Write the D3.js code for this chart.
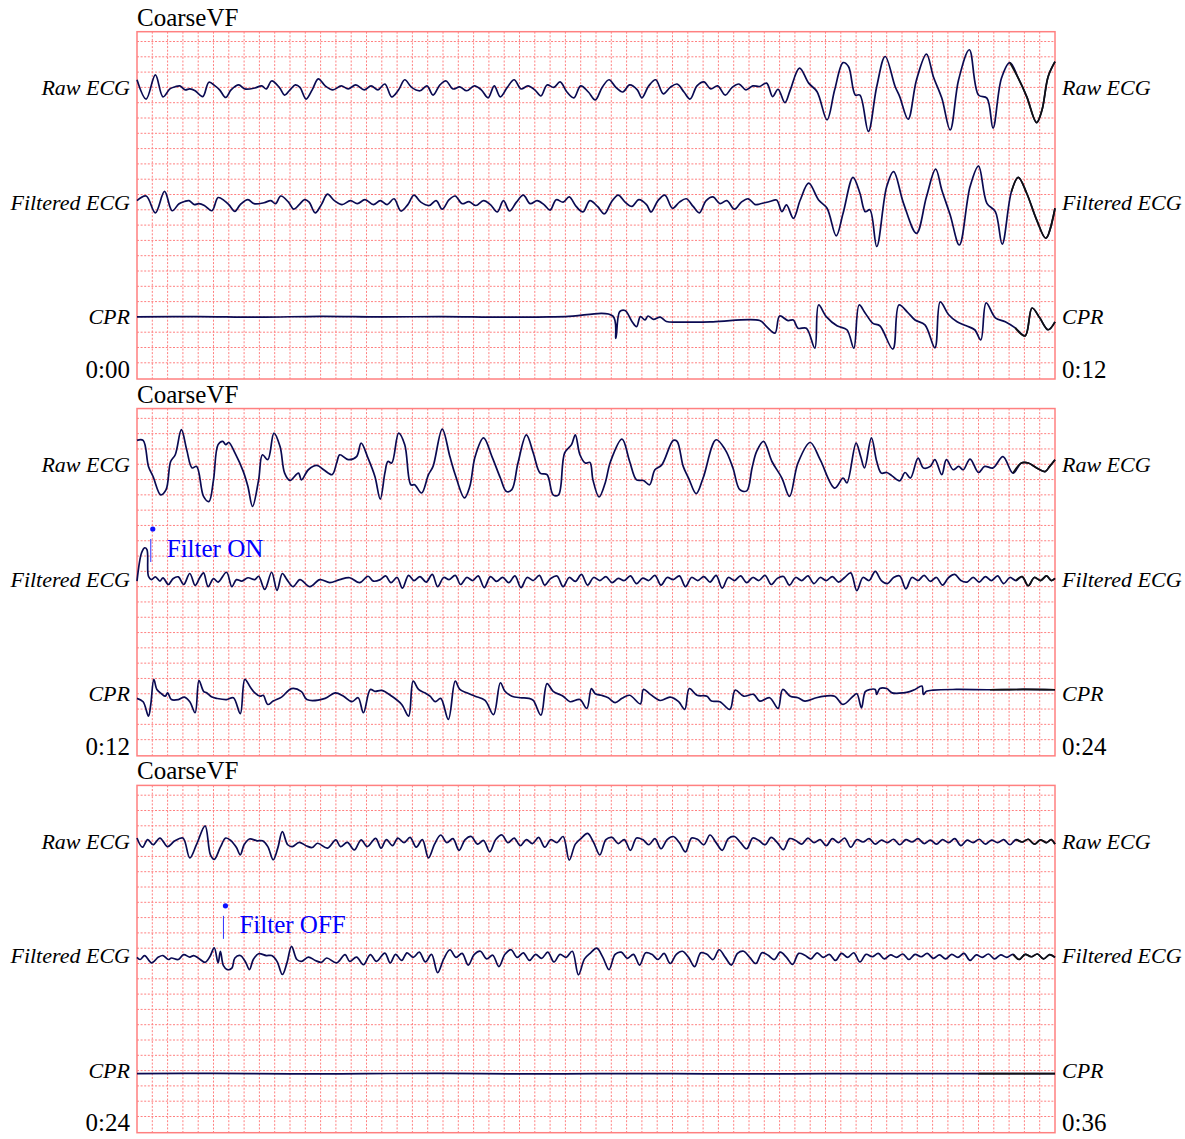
<!DOCTYPE html>
<html>
<head>
<meta charset="utf-8">
<script src="https://cdn.jsdelivr.net/npm/d3@7"></script>
<style>
  body { margin: 0; background: #fff; }
</style>
</head>
<body>
<div id="chart"></div>
<script>
// labels
const panelTitles = ["CoarseVF", "CoarseVF", "CoarseVF"];
const startLabels = ["0:00", "0:12", "0:24"];
const endLabels = ["0:12", "0:24", "0:36"];
const leadNames = ["Raw ECG", "Filtered ECG", "CPR"];
const leadOffsets = [0, -3.75, -7.5]; // mV, where each lead sits in its strip

// [seconds into strip, mV]
const raw1 = [[0,0.25],[0.12,-0.38],[0.24,0.41],[0.34,-0.31],[0.43,-0.05],[0.50,0.02],[0.56,0.05],[0.63,-0.08],[0.69,-0.05],[0.76,-0.11],[0.86,-0.30],[0.94,0.17],[1.02,0.05],[1.08,-0.08],[1.16,-0.33],[1.23,-0.08],[1.33,0.08],[1.41,-0.05],[1.54,-0.02],[1.63,0.05],[1.69,-0.05],[1.76,0.21],[1.86,0],[1.93,-0.25],[2.00,-0.08],[2.07,0.08],[2.13,0],[2.21,-0.38],[2.29,-0.08],[2.37,0.28],[2.46,0.05],[2.56,-0.08],[2.67,0.05],[2.76,-0.05],[2.86,0.08],[2.97,-0.08],[3.06,0.05],[3.15,-0.08],[3.24,0.11],[3.33,-0.31],[3.42,-0.08],[3.50,0.25],[3.59,0],[3.70,-0.11],[3.79,0.05],[3.87,-0.25],[3.96,0.08],[4.04,0.21],[4.13,-0.05],[4.22,0.02],[4.31,-0.11],[4.41,0.05],[4.50,-0.08],[4.59,-0.34],[4.67,0.05],[4.75,-0.31],[4.84,0],[4.93,0.25],[5.02,-0.05],[5.11,0.05],[5.20,-0.08],[5.28,-0.28],[5.36,0.08],[5.45,0],[5.53,0.18],[5.62,-0.15],[5.71,-0.34],[5.80,0.05],[5.90,-0.15],[5.99,-0.41],[6.08,0],[6.17,0.25],[6.26,0],[6.35,-0.15],[6.44,0.08],[6.54,-0.08],[6.60,-0.34],[6.69,0.05],[6.78,0.25],[6.88,-0.21],[6.97,0],[7.06,0.11],[7.15,-0.15],[7.23,-0.38],[7.32,0.05],[7.41,0.18],[7.50,-0.05],[7.59,0.05],[7.69,-0.25],[7.78,0],[7.87,0.11],[7.96,-0.08],[8.05,0.05],[8.14,0.03],[8.23,0.14],[8.31,-0.30],[8.38,-0.06],[8.47,-0.50],[8.54,-0.08],[8.66,0.63],[8.78,0.14],[8.89,-0.14],[9.02,-1.06],[9.12,-0.08],[9.23,0.81],[9.30,0.68],[9.39,-0.25],[9.45,-0.25],[9.56,-1.44],[9.67,0.03],[9.78,1.01],[9.91,0.03],[9.97,-0.30],[10.08,-1.04],[10.19,0.25],[10.32,1.09],[10.41,0.35],[10.52,-0.35],[10.63,-1.39],[10.74,0.25],[10.88,1.23],[11.00,-0.25],[11.11,-0.35],[11.19,-1.33],[11.30,0.30],[11.41,0.81],[11.52,0.30],[11.63,-0.30],[11.76,-1.15],[11.83,-0.74],[11.91,0.35],[12.0,0.84]];
const filt1 = [[0,0.05],[0.12,0.2],[0.24,-0.35],[0.36,0.35],[0.46,-0.28],[0.55,-0.05],[0.62,0.02],[0.68,0.05],[0.75,-0.08],[0.81,-0.05],[0.88,-0.11],[0.98,-0.28],[1.06,0.15],[1.14,0.05],[1.20,-0.08],[1.28,-0.3],[1.35,-0.08],[1.45,0.08],[1.53,-0.05],[1.66,-0.02],[1.75,0.05],[1.81,-0.05],[1.88,0.2],[1.98,0],[2.05,-0.23],[2.12,-0.08],[2.19,0.08],[2.25,0],[2.33,-0.35],[2.41,-0.08],[2.49,0.26],[2.58,0.05],[2.68,-0.08],[2.79,0.05],[2.88,-0.05],[2.98,0.08],[3.09,-0.08],[3.18,0.05],[3.27,-0.08],[3.36,0.11],[3.45,-0.29],[3.54,-0.08],[3.62,0.23],[3.71,0],[3.82,-0.11],[3.91,0.05],[3.99,-0.23],[4.08,0.08],[4.16,0.2],[4.25,-0.05],[4.34,0.02],[4.43,-0.11],[4.53,0.05],[4.62,-0.08],[4.71,-0.32],[4.79,0.05],[4.87,-0.29],[4.96,0],[5.05,0.23],[5.14,-0.05],[5.23,0.05],[5.32,-0.08],[5.40,-0.26],[5.48,0.08],[5.57,0],[5.65,0.17],[5.74,-0.14],[5.83,-0.32],[5.92,0.05],[6.02,-0.14],[6.11,-0.38],[6.20,0],[6.29,0.23],[6.38,0],[6.47,-0.14],[6.56,0.08],[6.66,-0.08],[6.72,-0.32],[6.81,0.05],[6.90,0.23],[7.00,-0.2],[7.09,0],[7.18,0.11],[7.27,-0.14],[7.35,-0.35],[7.44,0.05],[7.53,0.17],[7.62,-0.05],[7.71,0.05],[7.81,-0.23],[7.90,0],[7.99,0.11],[8.08,-0.08],[8.14,-0.06],[8.27,0.02],[8.36,0.07],[8.43,-0.31],[8.49,-0.09],[8.58,-0.53],[8.67,0.07],[8.78,0.62],[8.91,0.07],[9.02,-0.2],[9.14,-1.1],[9.23,-0.36],[9.36,0.81],[9.45,0.29],[9.52,-0.31],[9.58,-0.25],[9.67,-1.45],[9.80,0.51],[9.89,1.0],[10.02,-0.04],[10.19,-1.02],[10.32,0.18],[10.44,1.08],[10.52,0.4],[10.63,-0.42],[10.75,-1.4],[10.89,0.51],[11.0,1.18],[11.11,-0.04],[11.22,-0.31],[11.31,-1.37],[11.43,0.34],[11.52,0.81],[11.63,0.29],[11.76,-0.58],[11.88,-1.18],[12.0,-0.2]];
const cpr1 = [[0,0],[0.8,0.01],[1.6,-0.01],[2.4,0.02],[3.2,0],[4.0,0.01],[4.8,-0.01],[5.6,0.01],[6.22,0.03],[6.26,-0.7],[6.31,0.17],[6.38,0.21],[6.47,-0.15],[6.53,-0.32],[6.58,0.01],[6.64,-0.1],[6.68,0.03],[6.75,-0.08],[6.84,-0.01],[6.92,-0.15],[7.10,-0.17],[7.53,-0.16],[8.14,-0.12],[8.23,-0.32],[8.34,-0.53],[8.40,0.03],[8.51,-0.12],[8.58,-0.1],[8.64,-0.37],[8.75,-0.37],[8.86,-1.02],[8.91,0.39],[9.01,0.01],[9.15,-0.29],[9.28,-0.42],[9.37,-1.02],[9.44,0.39],[9.52,0.12],[9.62,-0.21],[9.71,-0.29],[9.88,-1.05],[9.96,0.39],[10.07,0.16],[10.17,-0.1],[10.30,-0.26],[10.43,-1.01],[10.50,0.49],[10.61,0.07],[10.72,-0.16],[10.84,-0.29],[10.95,-0.42],[11.03,-0.75],[11.10,0.46],[11.22,-0.03],[11.35,-0.16],[11.48,-0.36],[11.61,-0.62],[11.70,0.29],[11.80,-0.03],[11.91,-0.42],[12.0,-0.16]];

const raw2 = [[0,0.78],[0.08,0.78],[0.15,-0.07],[0.21,-0.4],[0.31,-1.0],[0.38,-0.83],[0.44,0.09],[0.50,0.31],[0.58,1.13],[0.65,0.47],[0.72,-0.12],[0.78,-0.07],[0.87,-1.05],[0.94,-1.22],[1.00,-0.51],[1.06,0.64],[1.12,0.75],[1.16,0.64],[1.20,0.71],[1.28,0.37],[1.39,-0.24],[1.45,-0.73],[1.51,-1.38],[1.59,-0.51],[1.64,0.31],[1.71,0.15],[1.79,1.02],[1.87,0.58],[1.93,-0.29],[2.00,-0.53],[2.11,-0.29],[2.15,-0.51],[2.24,-0.18],[2.35,-0.04],[2.44,-0.18],[2.55,-0.34],[2.61,0.04],[2.65,0.31],[2.76,0.15],[2.87,0.25],[2.93,0.69],[3.02,0.2],[3.11,-0.4],[3.18,-1.14],[3.24,-0.29],[3.28,0.09],[3.33,0.04],[3.42,1.02],[3.50,0.64],[3.58,-0.67],[3.63,-0.67],[3.72,-0.94],[3.81,-0.34],[3.87,-0.07],[3.99,1.15],[4.09,0.25],[4.16,-0.34],[4.28,-1.1],[4.35,-0.73],[4.42,0.25],[4.53,0.86],[4.64,0.25],[4.75,-0.45],[4.83,-0.89],[4.90,-0.83],[4.98,0.04],[5.09,0.96],[5.18,0.37],[5.27,-0.29],[5.36,-0.34],[5.44,-1.0],[5.51,-1.0],[5.59,0.37],[5.68,0.64],[5.73,0.96],[5.79,0.31],[5.86,0.04],[5.92,0.06],[5.96,-0.51],[6.04,-1.07],[6.12,-0.61],[6.19,0.09],[6.34,0.82],[6.44,0.09],[6.53,-0.51],[6.62,-0.53],[6.70,-0.67],[6.77,-0.18],[6.86,-0.02],[7.01,0.78],[7.06,0.75],[7.14,-0.07],[7.21,-0.45],[7.31,-0.96],[7.40,-0.45],[7.57,0.8],[7.69,0.47],[7.79,-0.12],[7.88,-0.83],[7.97,-0.87],[8.04,-0.12],[8.10,0.42],[8.19,0.75],[8.30,0.09],[8.43,-0.45],[8.53,-1.05],[8.64,0.04],[8.80,0.71],[8.93,0.15],[9.12,-0.78],[9.23,-0.45],[9.28,-0.61],[9.40,0.69],[9.46,0.25],[9.51,-0.12],[9.60,0.86],[9.67,0.09],[9.73,-0.29],[9.80,-0.27],[9.87,-0.38],[9.97,-0.54],[10.04,-0.27],[10.11,-0.45],[10.21,0.2],[10.28,-0.12],[10.37,-0.07],[10.43,0.15],[10.52,-0.34],[10.58,0.15],[10.67,-0.18],[10.74,-0.07],[10.80,-0.18],[10.89,0.17],[11.00,-0.27],[11.08,-0.07],[11.19,-0.12],[11.32,0.25],[11.45,-0.29],[11.56,0.04],[11.65,0.04],[11.76,-0.12],[11.87,-0.24],[11.93,-0.07],[12.0,0.15]];
const filt2 = [[0,-0.07],[0.06,0.86],[0.10,1.02],[0.13,0.96],[0.15,0.09],[0.19,-0.02],[0.24,0.07],[0.30,-0.07],[0.34,0.04],[0.41,-0.18],[0.47,0.01],[0.54,0.07],[0.61,-0.18],[0.69,0.18],[0.76,-0.21],[0.82,0.04],[0.87,0.2],[0.93,-0.25],[1.00,0.01],[1.06,-0.1],[1.17,0.22],[1.24,-0.25],[1.30,-0.02],[1.37,-0.07],[1.45,0.04],[1.54,-0.02],[1.59,0.09],[1.67,-0.34],[1.76,0.22],[1.83,-0.37],[1.90,0.18],[1.96,-0.02],[2.04,-0.25],[2.13,-0.02],[2.26,-0.25],[2.39,-0.02],[2.52,-0.12],[2.65,-0.02],[2.78,0.04],[2.91,-0.12],[3.02,0.09],[3.09,-0.07],[3.18,-0.02],[3.25,0.1],[3.32,-0.12],[3.40,0.05],[3.47,-0.3],[3.55,0.12],[3.62,-0.05],[3.70,0.08],[3.78,-0.1],[3.86,0.15],[3.93,-0.25],[4.01,0.05],[4.08,-0.02],[4.16,0.12],[4.23,-0.18],[4.31,0.05],[4.39,-0.05],[4.46,0.1],[4.54,-0.28],[4.62,0.08],[4.70,-0.08],[4.78,0.05],[4.86,-0.12],[4.94,0.1],[5.02,-0.28],[5.10,0.05],[5.18,-0.05],[5.26,0.12],[5.33,-0.2],[5.41,0.02],[5.49,0.1],[5.57,-0.25],[5.65,0.05],[5.73,-0.08],[5.81,0.15],[5.89,-0.2],[5.97,0.05],[6.05,-0.05],[6.13,0.08],[6.21,-0.12],[6.29,0.02],[6.37,-0.05],[6.45,0.1],[6.53,-0.15],[6.61,0.03],[6.69,-0.05],[6.77,0.12],[6.85,-0.2],[6.93,0.05],[7.01,-0.02],[7.09,0.1],[7.17,-0.25],[7.25,0.05],[7.33,-0.05],[7.41,0.08],[7.49,-0.1],[7.57,0.12],[7.65,-0.3],[7.73,0.05],[7.81,-0.05],[7.89,0.1],[7.97,-0.12],[8.05,0.05],[8.13,-0.05],[8.21,0.12],[8.29,-0.18],[8.37,0.02],[8.45,0.08],[8.53,-0.2],[8.61,0.05],[8.69,-0.05],[8.77,0.1],[8.85,-0.15],[8.93,0.05],[9.01,-0.05],[9.09,0.08],[9.17,-0.1],[9.25,0.05],[9.33,0.2],[9.41,-0.38],[9.49,0.05],[9.57,-0.05],[9.65,0.25],[9.73,-0.05],[9.81,-0.15],[9.89,0.05],[9.97,0.1],[10.05,-0.32],[10.13,0.05],[10.21,-0.05],[10.29,0.12],[10.37,-0.08],[10.45,0.05],[10.53,-0.2],[10.61,0.05],[10.69,0.15],[10.77,-0.05],[10.85,-0.1],[10.93,0.05],[11.01,-0.1],[11.09,0.08],[11.17,-0.05],[11.25,0.1],[11.33,-0.15],[11.41,0.05],[11.49,-0.05],[11.57,0.08],[11.65,-0.22],[11.73,0.05],[11.81,-0.05],[11.89,0.1],[11.95,-0.05],[12.0,0.02]];
const cpr2 = [[0,-0.15],[0.08,-0.26],[0.15,-0.73],[0.18,-0.35],[0.22,0.47],[0.26,0.14],[0.32,0],[0.37,-0.08],[0.40,0.03],[0.45,-0.19],[0.54,-0.19],[0.62,-0.11],[0.69,-0.26],[0.76,-0.62],[0.81,0.43],[0.87,0.08],[0.91,0.03],[0.98,-0.11],[1.04,-0.15],[1.17,-0.19],[1.26,-0.13],[1.35,-0.65],[1.41,0.47],[1.48,0.22],[1.54,0.03],[1.61,-0.08],[1.65,-0.05],[1.71,-0.35],[1.78,-0.24],[1.89,-0.11],[2.02,0.17],[2.15,0.07],[2.22,-0.19],[2.46,-0.15],[2.59,0.03],[2.70,-0.08],[2.81,-0.26],[2.89,-0.13],[2.96,-0.62],[3.05,0.14],[3.11,0.08],[3.20,0.11],[3.33,-0.08],[3.46,-0.35],[3.55,-0.73],[3.61,0.41],[3.68,0.14],[3.76,0.03],[3.83,-0.08],[3.90,-0.26],[3.97,-0.15],[4.07,-0.84],[4.16,0.41],[4.22,0.14],[4.31,0.03],[4.42,-0.08],[4.55,-0.22],[4.66,-0.68],[4.75,0.36],[4.81,0.08],[4.90,-0.08],[5.01,-0.13],[5.12,-0.15],[5.18,-0.22],[5.28,-0.7],[5.36,0.33],[5.44,0.08],[5.57,-0.08],[5.66,-0.26],[5.79,-0.19],[5.88,-0.48],[5.94,0.17],[5.99,0],[6.07,-0.05],[6.16,-0.13],[6.25,-0.29],[6.34,-0.15],[6.44,-0.05],[6.58,-0.33],[6.62,0.14],[6.71,-0.02],[6.84,-0.22],[6.97,-0.11],[7.08,-0.26],[7.16,-0.51],[7.22,0.17],[7.32,-0.05],[7.45,-0.08],[7.51,-0.24],[7.62,-0.26],[7.75,-0.51],[7.82,0.12],[7.93,-0.08],[8.06,-0.02],[8.14,-0.24],[8.27,-0.13],[8.38,-0.48],[8.44,0.14],[8.54,-0.08],[8.64,-0.13],[8.73,-0.24],[8.88,-0.13],[8.99,-0.08],[9.12,-0.08],[9.23,-0.35],[9.36,-0.08],[9.41,0],[9.47,-0.46],[9.52,0.07],[9.58,0.14],[9.65,0.14],[9.67,-0.02],[9.71,0.17],[9.80,0.17],[9.87,0.03],[10.02,0.03],[10.10,0.07],[10.17,0.14],[10.26,0.25],[10.28,-0.02],[10.32,0.08],[10.41,0.12],[10.71,0.14],[11.15,0.13],[11.59,0.14],[12.0,0.13]];

const raw3 = [[0,0.1],[0.07,-0.2],[0.14,0.05],[0.21,-0.12],[0.30,0.1],[0.40,-0.18],[0.49,0],[0.60,0.1],[0.69,-0.55],[0.78,-0.1],[0.89,0.5],[0.96,-0.45],[1.01,-0.6],[1.09,-0.2],[1.16,0.1],[1.23,0.01],[1.30,-0.21],[1.35,-0.45],[1.40,-0.12],[1.47,0.07],[1.57,0.01],[1.64,0.01],[1.71,-0.18],[1.78,-0.61],[1.84,-0.23],[1.90,0.31],[1.97,-0.12],[2.03,-0.18],[2.12,-0.04],[2.21,-0.15],[2.29,-0.21],[2.36,-0.07],[2.49,-0.23],[2.60,0.04],[2.66,-0.18],[2.75,-0.04],[2.84,-0.29],[2.93,0.04],[3.01,-0.18],[3.12,0.09],[3.19,-0.23],[3.26,0.05],[3.34,-0.15],[3.41,0.1],[3.49,-0.05],[3.57,0.12],[3.65,-0.2],[3.73,0.05],[3.81,-0.55],[3.89,-0.1],[3.97,0.2],[4.05,-0.05],[4.13,0.08],[4.21,-0.3],[4.29,0.05],[4.37,0.15],[4.45,-0.1],[4.53,0.02],[4.61,-0.35],[4.69,0.05],[4.77,0.2],[4.85,-0.05],[4.93,0.1],[5.01,-0.15],[5.09,0.05],[5.17,-0.08],[5.25,0.12],[5.33,-0.2],[5.41,0.05],[5.49,-0.05],[5.57,0.15],[5.65,-0.62],[5.73,-0.1],[5.81,0.1],[5.89,0.25],[5.97,-0.05],[6.05,-0.45],[6.13,0.05],[6.21,0.12],[6.29,-0.08],[6.37,0.05],[6.45,-0.3],[6.53,0.1],[6.61,0.05],[6.69,-0.12],[6.77,0.08],[6.85,-0.25],[6.93,0.05],[7.01,0.15],[7.09,-0.05],[7.17,-0.35],[7.25,0.1],[7.33,0.05],[7.41,-0.12],[7.49,0.2],[7.57,-0.05],[7.65,-0.3],[7.73,0.08],[7.81,0.15],[7.89,-0.05],[7.97,-0.25],[8.05,0.1],[8.13,0.02],[8.21,-0.12],[8.29,0.12],[8.37,-0.05],[8.45,-0.28],[8.53,0.08],[8.61,0.02],[8.69,-0.1],[8.77,0.1],[8.85,-0.05],[8.93,0.05],[9.01,-0.15],[9.09,0.08],[9.17,-0.05],[9.25,0.1],[9.33,-0.2],[9.41,0.05],[9.49,-0.03],[9.57,0.08],[9.65,-0.1],[9.73,0.03],[9.81,-0.05],[9.89,0.06],[9.97,-0.12],[10.05,0.05],[10.13,-0.03],[10.21,0.08],[10.29,-0.08],[10.37,0.03],[10.45,-0.1],[10.53,0.05],[10.61,-0.05],[10.69,0.08],[10.77,-0.15],[10.85,0.03],[10.93,-0.05],[11.01,0.06],[11.09,-0.1],[11.17,0.03],[11.25,-0.05],[11.33,0.05],[11.41,-0.12],[11.49,0.05],[11.57,-0.03],[11.65,0.06],[11.73,-0.1],[11.81,0.04],[11.89,-0.05],[11.95,0.05],[12.0,-0.1]];
const filt3 = [[0,-0.05],[0.04,-0.12],[0.10,0.01],[0.19,-0.23],[0.28,-0.04],[0.34,0.01],[0.41,-0.12],[0.45,-0.07],[0.54,-0.12],[0.61,0.04],[0.69,-0.04],[0.74,0.01],[0.80,-0.07],[0.89,-0.21],[0.95,-0.04],[1.01,0.26],[1.06,-0.23],[1.09,0.15],[1.13,-0.32],[1.18,-0.45],[1.24,-0.4],[1.28,-0.07],[1.35,0.01],[1.42,-0.21],[1.47,-0.45],[1.52,-0.12],[1.59,0.07],[1.69,0.01],[1.76,0.01],[1.83,-0.18],[1.90,-0.61],[1.96,-0.23],[2.02,0.31],[2.09,-0.12],[2.15,-0.18],[2.24,-0.04],[2.33,-0.15],[2.41,-0.21],[2.48,-0.07],[2.61,-0.23],[2.72,0.04],[2.78,-0.18],[2.87,-0.04],[2.96,-0.29],[3.05,0.04],[3.13,-0.18],[3.24,0.09],[3.31,-0.23],[3.38,0.05],[3.46,-0.15],[3.53,0.1],[3.61,-0.05],[3.69,0.12],[3.77,-0.2],[3.85,0.05],[3.93,-0.55],[4.01,-0.1],[4.09,0.2],[4.17,-0.05],[4.25,0.08],[4.33,-0.3],[4.41,0.05],[4.49,0.15],[4.57,-0.1],[4.65,0.02],[4.73,-0.35],[4.81,0.05],[4.89,0.2],[4.97,-0.05],[5.05,0.1],[5.13,-0.15],[5.21,0.05],[5.29,-0.08],[5.37,0.12],[5.45,-0.2],[5.53,0.05],[5.61,-0.05],[5.69,0.15],[5.77,-0.62],[5.85,-0.1],[5.93,0.1],[6.01,0.25],[6.09,-0.05],[6.17,-0.45],[6.25,0.05],[6.33,0.12],[6.41,-0.08],[6.49,0.05],[6.57,-0.3],[6.65,0.1],[6.73,0.05],[6.81,-0.12],[6.89,0.08],[6.97,-0.25],[7.05,0.05],[7.13,0.15],[7.21,-0.05],[7.29,-0.35],[7.37,0.1],[7.45,0.05],[7.53,-0.12],[7.61,0.2],[7.69,-0.05],[7.77,-0.3],[7.85,0.08],[7.93,0.15],[8.01,-0.05],[8.09,-0.25],[8.17,0.1],[8.25,0.02],[8.33,-0.12],[8.41,0.12],[8.49,-0.05],[8.57,-0.28],[8.65,0.08],[8.73,0.02],[8.81,-0.1],[8.89,0.1],[8.97,-0.05],[9.05,0.05],[9.13,-0.15],[9.21,0.08],[9.29,-0.05],[9.37,0.1],[9.45,-0.2],[9.53,0.05],[9.61,-0.03],[9.69,0.08],[9.77,-0.1],[9.85,0.03],[9.93,-0.05],[10.01,0.06],[10.09,-0.12],[10.17,0.05],[10.25,-0.03],[10.33,0.08],[10.41,-0.08],[10.49,0.03],[10.57,-0.1],[10.65,0.05],[10.73,-0.05],[10.81,0.08],[10.89,-0.15],[10.97,0.03],[11.05,-0.05],[11.13,0.06],[11.21,-0.1],[11.29,0.03],[11.37,-0.05],[11.45,0.05],[11.53,-0.12],[11.61,0.05],[11.69,-0.03],[11.77,0.06],[11.85,-0.1],[11.93,0.04],[12.0,-0.05]];
const cpr3 = [[0,-0.1],[1,-0.09],[2,-0.11],[3,-0.1],[4,-0.09],[5,-0.11],[6,-0.1],[7,-0.1],[8,-0.11],[9,-0.1],[10,-0.1],[11,-0.1],[12,-0.1]];

const panelLeads = [[raw1, filt1, cpr1], [raw2, filt2, cpr2], [raw3, filt3, cpr3]];

// filter events: strip index, seconds into strip, text
const markerPanels = [1, 2];
const markerTimes = [0.18, 1.13];
const markerTexts = ["Filter ON", "Filter OFF"];

const W = 1185, H = 1139;
const stripTop0 = 31.7, stripStep = 376.85, stripH = 347.3;
const pxPerMv = 30.6; // 0.5 mV per grid box
const tailStart = 11.5;

const svg = d3.select("#chart").append("svg")
    .attr("width", W)
    .attr("height", H)
    .style("font-family", "'Liberation Serif', 'Times New Roman', serif");

const x = d3.scaleLinear().domain([0, 12]).range([137, 1055]);

panelLeads.forEach((leads, p) => {
    const top = stripTop0 + p * stripStep;
    const base = top + 55.7;
    const y = d3.scaleLinear().domain([0, 1]).range([base, base - pxPerMv]);
    const g = svg.append("g");

    // grid
    g.selectAll(".vgrid")
        .data(d3.range(1, 60).map(k => k * 0.2))
        .enter().append("line")
        .attr("x1", d => x(d)).attr("x2", d => x(d))
        .attr("y1", top).attr("y2", top + stripH)
        .attr("stroke", "#ff8080")
        .attr("stroke-width", 1)
        .attr("stroke-dasharray", "2,1.6");

    g.selectAll(".hgrid")
        .data(d3.range(22).map(k => 1.5 - 0.5 * k))
        .enter().append("line")
        .attr("x1", x(0)).attr("x2", x(12))
        .attr("y1", d => y(d)).attr("y2", d => y(d))
        .attr("stroke", "#ff8080")
        .attr("stroke-width", 1)
        .attr("stroke-dasharray", "2,1.6");

    g.append("rect")
        .attr("x", x(0)).attr("y", top)
        .attr("width", x(12) - x(0)).attr("height", stripH)
        .attr("fill", "none")
        .attr("stroke", "#ff8080")
        .attr("stroke-width", 1.5);

    // traces
    leads.forEach((data, i) => {
        const off = leadOffsets[i];
        const line = d3.line()
            .x(d => x(d[0]))
            .y(d => y(d[1] + off))
            .curve(d3.curveCatmullRom.alpha(0.5));

        g.append("path")
            .attr("d", line(data))
            .attr("fill", "none")
            .attr("stroke", "#0a0a52")
            .attr("stroke-width", 1.7)
            .attr("stroke-linejoin", "round");

        // last half second is drawn in black on the recorder
        const tail = data.filter((d, j, a) => d[0] >= tailStart || (a[j + 1] && a[j + 1][0] >= tailStart));
        g.append("path")
            .attr("d", line(tail))
            .attr("fill", "none")
            .attr("stroke", "#111")
            .attr("stroke-width", 1.7);

        const ty = y(off) + 7.5;
        g.append("text")
            .attr("x", 130).attr("y", ty)
            .attr("text-anchor", "end")
            .attr("font-style", "italic")
            .attr("font-size", "22px")
            .text(leadNames[i]);
        g.append("text")
            .attr("x", 1062).attr("y", ty)
            .attr("font-style", "italic")
            .attr("font-size", "22px")
            .text(leadNames[i]);
    });

    g.append("text")
        .attr("x", x(0)).attr("y", top - 6)
        .attr("font-size", "25px")
        .text(panelTitles[p]);

    g.append("text")
        .attr("x", 130).attr("y", top + 346)
        .attr("text-anchor", "end")
        .attr("font-size", "25px")
        .text(startLabels[p]);

    g.append("text")
        .attr("x", 1062).attr("y", top + 346)
        .attr("font-size", "25px")
        .text(endLabels[p]);

    // filter markers
    markerPanels.forEach((mp, m) => {
        if (mp !== p) return;
        const mx = x(markerTimes[m]);
        const fBase = y(leadOffsets[1]);
        g.append("line")
            .attr("x1", mx).attr("x2", mx)
            .attr("y1", fBase - 40).attr("y2", fBase - 17)
            .attr("stroke", "#3030ff")
            .attr("stroke-width", 1);
        g.append("circle")
            .attr("cx", mx + 2).attr("cy", fBase - 50)
            .attr("r", 2.6)
            .attr("fill", "#1010ff");
        g.append("text")
            .attr("x", mx + 16).attr("y", fBase - 22.5)
            .attr("font-size", "25px")
            .attr("fill", "#0000ff")
            .text(markerTexts[m]);
    });
});
</script>
</body>
</html>
